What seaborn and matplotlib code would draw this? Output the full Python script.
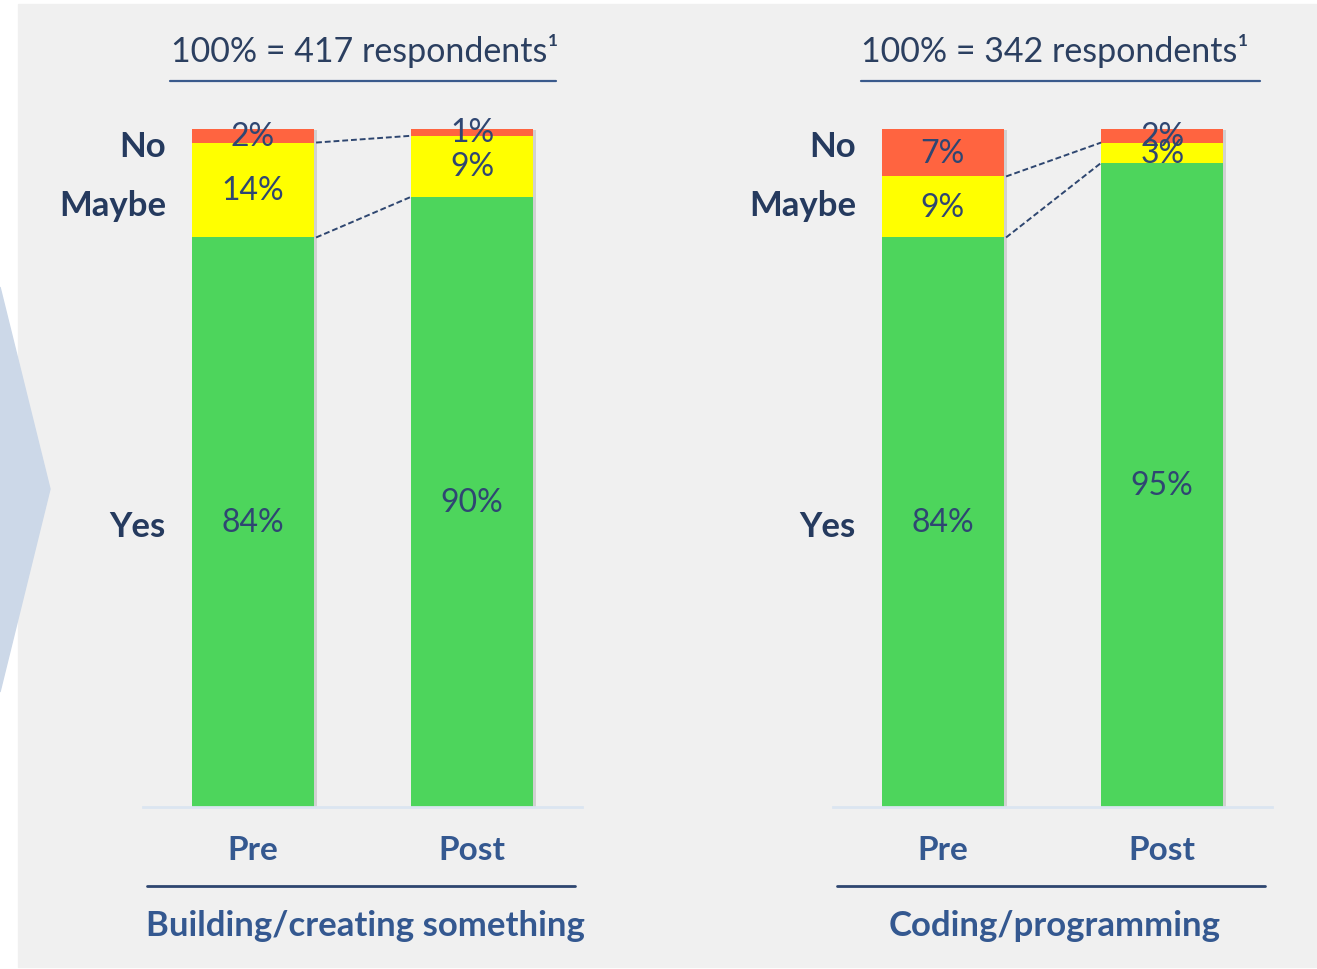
import numpy as np
import pandas as pd
import matplotlib
matplotlib.use("Agg")
import matplotlib.pyplot as plt
import matplotlib.patheffects as pe
from matplotlib.patches import Polygon, Rectangle
from matplotlib.lines import Line2D
import seaborn as sns

# データ
phases = ["Pre", "Post"]
panel_titles = ["Building/creating something", "Coding/programming"]
respondents = [417, 342]
yes_vals = [[84, 90], [84, 95]]
maybe_vals = [[14, 9], [9, 3]]
no_vals = [[2, 1], [7, 2]]
answer_labels = ["No", "Maybe", "Yes"]

# 色
C_NO = "#ff6440"
C_MAYBE = "#ffff00"
C_YES = "#4dd55c"
C_PCT = "#2f4672"
C_SIDE = "#253a5e"
C_CAT = "#345890"
C_LINE = "#2e4670"

sns.set_theme(style="white")
plt.rcParams['font.family'] = ['Lato', 'DejaVu Sans']

W, H = 1317, 970
fig = plt.figure(figsize=(W / 100, H / 100), dpi=100)
fig.patch.set_facecolor("white")

def fx(px):
    return px / W

def fy(py):
    return 1 - py / H

# 背景パネルとシェブロン
fig.patches.append(Rectangle((fx(18), fy(968)), fx(1299), fy(5) - fy(968),
                             transform=fig.transFigure, color="#f0f0f0", zorder=-10))
fig.patches.append(Polygon([(0, fy(288)), (fx(50), fy(490)), (0, fy(693))],
                           closed=True, transform=fig.transFigure,
                           color="#ccd8e8", zorder=-9))

axes_x = [143, 833]
centers = [365, 1055]
head_lines = [(170, 556), (861, 1260)]
foot_lines = [(147, 575), (837, 1265)]
side_x = [166, 856]

shadow = [pe.SimplePatchShadow(offset=(2, -1), shadow_rgbFace="#999999", alpha=0.35), pe.Normal()]

for i in range(2):
    ax = fig.add_axes([fx(axes_x[i]), fy(808), fx(439), fy(130) - fy(808)])
    ax.set_facecolor("none")
    df = pd.DataFrame({
        "phase": phases,
        "yes": yes_vals[i],
        "maybe": maybe_vals[i],
        "no": no_vals[i],
    })
    df["top_maybe"] = df["yes"] + df["maybe"]
    df["total"] = df["top_maybe"] + df["no"]

    # 積み上げ棒（大きい方から重ねる）
    for col, c in [("total", C_NO), ("top_maybe", C_MAYBE), ("yes", C_YES)]:
        sns.barplot(data=df, x="phase", y=col, color=c, width=0.557,
                    saturation=1, ax=ax, linewidth=0)
    for k, p in enumerate(ax.patches):
        if k < 2:
            p.set_path_effects(shadow)

    ax.set_xlim(-0.5, 1.5)
    ax.set_ylim(0, 100)
    ax.set_xlabel("")
    ax.set_ylabel("")
    ax.set_yticks([])
    for s in ["left", "right", "top"]:
        ax.spines[s].set_visible(False)
    ax.spines["bottom"].set_color("#dbe5f1")
    ax.spines["bottom"].set_linewidth(2)
    ax.tick_params(axis="x", length=0, pad=20)
    ax.set_xticks(range(len(phases)))
    ax.set_xticklabels(phases, fontsize=24, fontweight="bold", color=C_CAT)

    # パーセント表示
    for j in range(len(phases)):
        y_ = df["yes"][j]
        m_ = df["maybe"][j]
        n_ = df["no"][j]
        for val, mid in [(y_, y_ / 2), (m_, y_ + m_ / 2), (n_, y_ + m_ + n_ / 2)]:
            ax.text(j, mid, f"{val}%", ha="center", va="center",
                    fontsize=23, color=C_PCT, zorder=5)

    # 破線コネクタ
    hw = 0.557 / 2
    for col in ["top_maybe", "yes"]:
        ax.plot([0 + hw + 0.01, 1 - hw], [df[col][0], df[col][1]],
                ls=(0, (3, 1.5)), lw=1.4, color=C_LINE, zorder=4, clip_on=False)

    # 左側の回答ラベル
    for lab, yy in zip(answer_labels, [97.5, 88.8, 41.5]):
        fig.text(fx(side_x[i]), fy(808 - yy * 6.78), lab, ha="right", va="center",
                 fontsize=25, fontweight="bold", color=C_SIDE)

    # 見出しと下線
    fig.text(fx(centers[i]), fy(51), f"100% = {respondents[i]} respondents¹",
             ha="center", va="center", fontsize=24.5, color="#2b3f60")
    x0, x1 = head_lines[i]
    fig.lines.append(Line2D([fx(x0), fx(x1)], [fy(82), fy(82)],
                            transform=fig.transFigure, color="#3a5a8c", lw=1.6))
    x0, x1 = foot_lines[i]
    fig.lines.append(Line2D([fx(x0), fx(x1)], [fy(887), fy(887)],
                            transform=fig.transFigure, color=C_LINE, lw=2))
    fig.text(fx(centers[i]), fy(926), panel_titles[i], ha="center", va="center",
             fontsize=25, fontweight="bold", color=C_CAT)

fig.savefig("out.png", dpi=100)
